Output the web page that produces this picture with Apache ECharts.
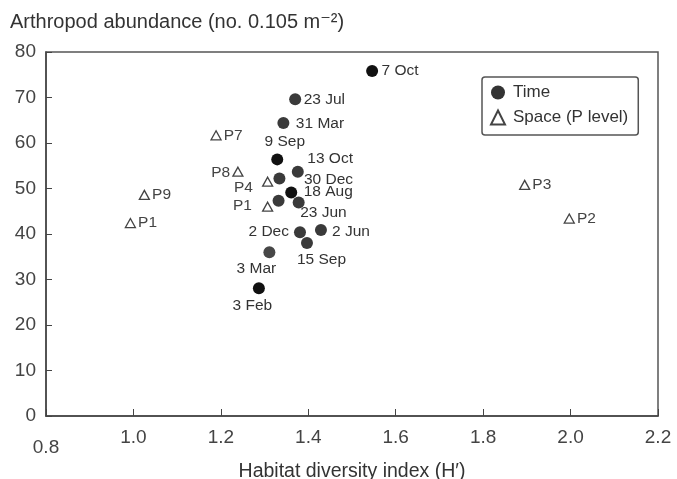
<!DOCTYPE html>
<html><head><meta charset="utf-8">
<script src="https://cdn.jsdelivr.net/npm/echarts@6/dist/echarts.min.js"></script>
<style>html,body{margin:0;padding:0;background:#fff}#c{width:677px;height:479px}</style>
</head><body><div id="c"></div>
<script>
// ---- data ----
const timeLabels = ['7 Oct','23 Jul','31 Mar','9 Sep','13 Oct','30 Dec','18 Aug','','23 Jun','2 Jun','2 Dec','15 Sep','3 Mar','3 Feb'];
const timeX = [1.546, 1.370, 1.343, 1.329, 1.376, 1.334, 1.361, 1.332, 1.378, 1.429, 1.381, 1.397, 1.311, 1.287];
const timeY = [75.8, 69.6, 64.4, 56.4, 53.7, 52.2, 49.1, 47.3, 46.9, 40.9, 40.4, 38.0, 36.0, 28.1];
const spaceLabels = ['P7','P9','P1','P8','P4','P1','P3','P2'];
const spaceX = [1.189, 1.025, 0.993, 1.239, 1.307, 1.307, 1.895, 1.997];
const spaceY = [61.7, 48.6, 42.4, 53.7, 51.5, 46.0, 50.8, 43.4];
const xTicks = [0.8, 1.0, 1.2, 1.4, 1.6, 1.8, 2.0, 2.2];
const yTicks = [0, 10, 20, 30, 40, 50, 60, 70, 80];

// ---- styling (label placement, colours) ----
const timeLabelStyle = [
  {position:'right', offset:[-1.5,0]},
  {position:'right', offset:[-2.5,0]},
  {position:'right', offset:[1.5,1]},
  {position:'top', offset:[7.5,1]},
  {position:'right', offset:[-1.5,-13]},
  {position:'right', offset:[13.5,1]},
  {position:'right', offset:[1.5,-1]},
  {position:'right', offset:[0,0]},
  {position:'right', offset:[-9.5,10]},
  {position:'right', offset:[0,2]},
  {position:'left', offset:[0,0]},
  {position:'bottom', offset:[14.5,-2]},
  {position:'bottom', offset:[-13,-2]},
  {position:'bottom', offset:[-6.5,-1]}
];
const timeColor = ['#111','#3a3a3a','#3a3a3a','#111','#3a3a3a','#3a3a3a','#111','#3a3a3a','#3a3a3a','#3a3a3a','#3a3a3a','#3a3a3a','#474747','#111'];
const spaceLabelStyle = [
  {position:'right', offset:[0,0]},
  {position:'right', offset:[0,0]},
  {position:'right', offset:[0,0]},
  {position:'left', offset:[0,1]},
  {position:'left', offset:[-7,6]},
  {position:'left', offset:[-8,-1]},
  {position:'right', offset:[0,0]},
  {position:'right', offset:[0,0]}
];

const timeData = timeX.map((x,i)=>({
  value:[x, timeY[i]], name: timeLabels[i],
  itemStyle:{color: timeColor[i]},
  label:{show: timeLabels[i] !== '', formatter: timeLabels[i], position: timeLabelStyle[i].position, offset: timeLabelStyle[i].offset}
}));
const spaceData = spaceX.map((x,i)=>({
  value:[x, spaceY[i]], name: spaceLabels[i],
  label:{show:true, formatter: spaceLabels[i], position: spaceLabelStyle[i].position, offset: spaceLabelStyle[i].offset}
}));

const font = '"Liberation Sans", "DejaVu Sans", sans-serif';
const chart = echarts.init(document.getElementById('c'), null, {renderer:'canvas'});
chart.setOption({
  animation:false,
  backgroundColor:'#fff',
  textStyle:{fontFamily: font},
  title:{text:'Arthropod abundance (no. 0.105 m\u207B\u00B2)', left:10, top:12, padding:0,
    textStyle:{fontSize:20, fontWeight:'normal', color:'#333', fontFamily: font}},
  grid:{left:46, right:19, top:52, bottom:63, containLabel:false, outerBoundsMode:'none',
        show:true, borderColor:'#555', borderWidth:1.5, backgroundColor:'transparent'},
  legend:{
    orient:'vertical', left:482, top:77,
    borderColor:'#555', borderWidth:1.5, borderRadius:3, padding:[7,10,9,8], itemGap:8,
    itemWidth:14, itemHeight:14,
    textStyle:{fontSize:17, color:'#333', fontFamily: font, padding:[0,0,0,3]},
    data:[{name:'Time'},{name:'Space (P level)'}]
  },
  xAxis:{
    type:'value', min:0.8, max:2.2, interval:0.2,
    name:'Habitat diversity index (H\u2032)', nameLocation:'middle', nameGap:37,
    nameTextStyle:{fontSize:19.5, color:'#333', fontFamily: font},
    axisLine:{show:true, onZero:false, lineStyle:{color:'#444', width:1.5}},
    axisTick:{show:true, inside:true, length:7, lineStyle:{color:'#444'}},
    splitLine:{show:false},
    axisLabel:{fontSize:19, color:'#444', margin:12, fontFamily: font, hideOverlap:false,
      formatter: v => { const s = v.toFixed(1); return Math.abs(v-0.8)<1e-6 ? '{low|'+s+'}' : s; },
      rich:{low:{fontSize:19, color:'#444', padding:[10,0,0,0], fontFamily: font}}
    }
  },
  yAxis:{
    type:'value', min:0, max:80, interval:10,
    axisLine:{show:true, onZero:false, lineStyle:{color:'#444', width:1.5}},
    axisTick:{show:true, inside:true, length:6, lineStyle:{color:'#444'}},
    splitLine:{show:false},
    axisLabel:{fontSize:19, color:'#444', margin:10, fontFamily: font,
      formatter: v => yTicks.includes(v) ? String(v) : ''}
  },
  series:[
    {name:'Time', type:'scatter', symbol:'circle', symbolSize:12,
     itemStyle:{color:'#333', opacity:1},
     label:{fontSize:15.5, color:'#333', distance:5, fontFamily: font},
     data: timeData, z:3},
    {name:'Space (P level)', type:'scatter', symbol:'triangle', symbolSize:[10,9],
     itemStyle:{color:'#fff', borderColor:'#444', borderWidth:1.3, opacity:1},
     label:{fontSize:15.5, color:'#444', distance:2, fontFamily: font},
     data: spaceData, z:2}
  ]
});
</script></body></html>
